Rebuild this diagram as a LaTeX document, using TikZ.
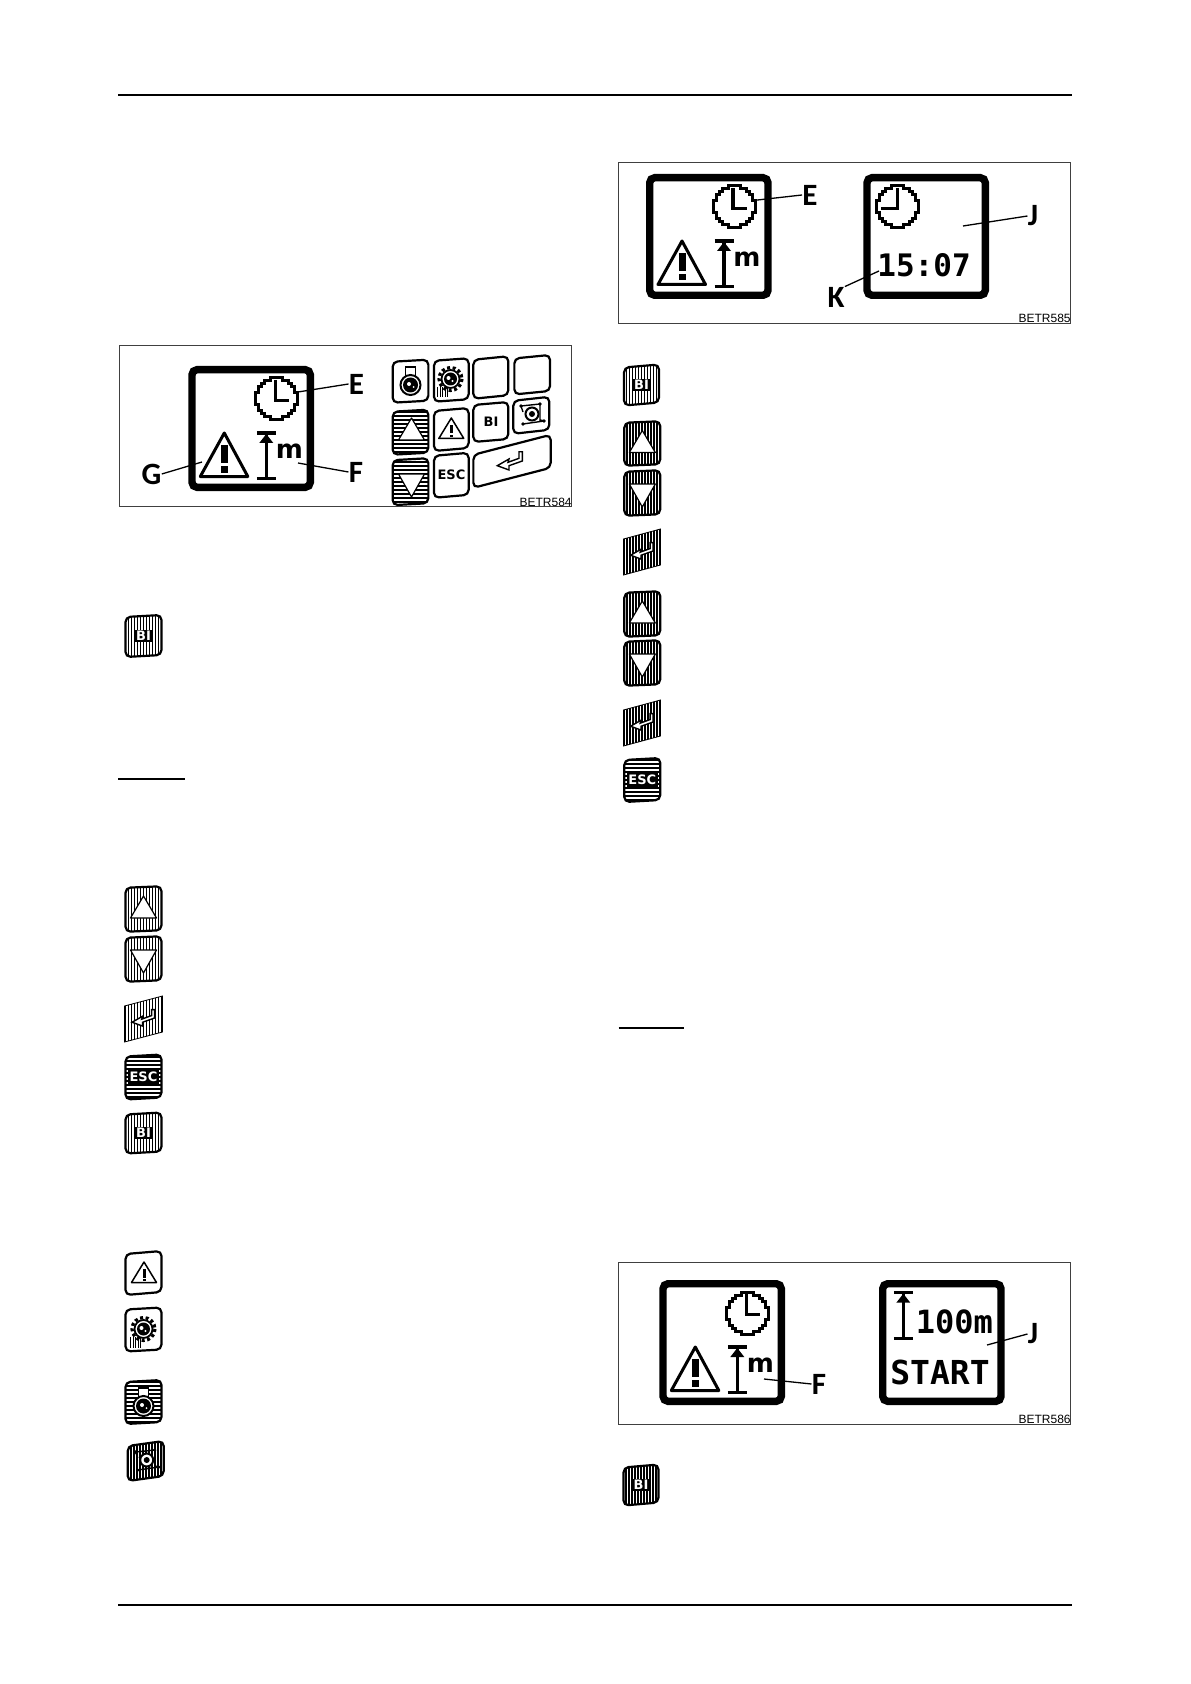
\documentclass[tikz,border=0pt]{standalone}
\usepackage{fontspec}
\setmainfont{Liberation Sans}
\newfontfamily\lblfont[Ligatures=TeX]{Carlito}
\newfontfamily\lcdfont{DejaVu Sans Mono}
\newfontfamily\keyfont{DejaVu Sans}
\tikzset{
  leader/.style={line width=.65pt,black},
  lbl/.style={font=\lblfont\bfseries\fontsize{15.5}{15.5}\selectfont,inner sep=0pt},
  lcd/.style={font=\lcdfont\bfseries\fontsize{#1}{#1}\selectfont,inner sep=0pt},
  code/.style={font=\fontsize{6}{6}\selectfont,inner sep=0pt,anchor=south east},
  frameb/.style={line width=.45pt,black!75},
  keyb/.style={line width=1.1pt,black,rounded corners=2.5pt},
  keyt/.style={font=\keyfont\bfseries\fontsize{#1}{#1}\selectfont,inner sep=0pt},
  keyp/.style={font=\keyfont\bfseries\fontsize{6.5}{6.5}\selectfont,fill=black,text=white,inner sep=.8pt},
}
\newcommand{\kpath}[5]{(#1-#3/2,#2-#4/2+#5/2) -- (#1+#3/2,#2-#4/2-#5/2) -- (#1+#3/2,#2+#4/2-#5/2) -- (#1-#3/2,#2+#4/2+#5/2) -- cycle}
\newcommand{\keyW}[5]{\draw[keyb,fill=white] \kpath{#1}{#2}{#3}{#4}{#5};}
\newcommand{\keyV}[5]{%
  \begin{scope}\clip[rounded corners=2.5pt] \kpath{#1}{#2}{#3}{#4}{#5};
    \foreach \i in {-24,-21,...,24} \draw[line width=.9pt] (#1+\i,#2-40) -- ++(0,80);
  \end{scope}
  \draw[keyb] \kpath{#1}{#2}{#3}{#4}{#5};}
\newcommand{\keyH}[5]{%
  \begin{scope}\clip[rounded corners=2.5pt] \kpath{#1}{#2}{#3}{#4}{#5};
    \foreach \i in {-32,-28,...,32} \draw[line width=1.1pt] (#1-30,#2+\i) -- ++(60,0);
  \end{scope}
  \draw[keyb] \kpath{#1}{#2}{#3}{#4}{#5};}
\newcommand{\keyEnterV}[5]{%
  \begin{scope}\clip \kpath{#1}{#2}{#3}{#4}{#5};
    \foreach \i in {-24,-21,...,24} \draw[line width=.9pt] (#1+\i,#2-40) -- ++(0,80);
  \end{scope}
  \draw[line width=.4pt] \kpath{#1}{#2}{#3}{#4}{#5};
  \enterarrow{#1}{#2-1}{.9}{white}}
\newcommand{\enterarrow}[4]{%
  \begin{scope}[shift={(#1,#2)},scale=#3]
  \draw[line width=.7pt,fill=#4,line join=miter] (-12.7,4.7) -- (-1,-2) -- (-2,1.3) -- (9,-2.7) -- (9,-9.3) -- (12.3,-9.3) -- (12.3,0) -- (-1,4.7) -- (-1,9) -- cycle;
  \end{scope}}
\newcommand{\triU}[2]{\draw[line width=.6pt,fill=white,line join=round] (#1,#2-13) -- (#1+13,#2+9) -- (#1-13,#2+9) -- cycle;}
\newcommand{\triD}[2]{\draw[line width=.6pt,fill=white,line join=round] (#1,#2+14) -- (#1+13,#2-9) -- (#1-13,#2-9) -- cycle;}
\newcommand{\warnicon}[2]{%
  \begin{scope}[shift={(#1,#2)}]
  \draw[line width=.75pt,line join=round,fill=white] (0,-12) -- (12.5,8.5) -- (-12.5,8.5) -- cycle;
  \fill (-1.5,-5) rectangle (1.5,3.5); \fill (-1.5,5) rectangle (1.5,7);
  \end{scope}}
\newcommand{\motoricon}[2]{%
  \begin{scope}[shift={(#1,#2)}]
  \draw[line width=.7pt,fill=white] (-5,-14) rectangle (5,-5);
  \draw[line width=1pt,fill=white] (0,4) circle (10);
  \fill (0,4) circle (7.5);
  \fill[white] (-1.5,3) circle (2); \fill[white] (3,6) circle (1);
  \end{scope}}
\newcommand{\gearicon}[2]{%
  \begin{scope}[shift={(#1,#2)}]
  \draw[line width=1.6pt,dash pattern=on 1.5pt off 1.3pt] (0,0) circle (11.5);
  \draw[line width=.9pt,fill=white] (0,0) circle (9);
  \fill (0,0) circle (6.5);
  \fill[white] (-2,-1) circle (2); \fill[white] (2,2) circle (1.2);
  \foreach \i in {-13,-10.5,...,-3} \draw[line width=.4pt] (\i,8) -- (\i,18.5);
  \end{scope}}
\newcommand{\pumpicon}[2]{%
  \begin{scope}[shift={(#1,#2)}]
  \draw[line width=.7pt] (-10,-9) -- (9,-11) -- (9,5) -- (14,6) (-10,-9) -- (-8,-3) (-8,9) -- (13,6);
  \draw[line width=1pt,fill=white] (1,-1) circle (6.5);
  \fill (1,-1) circle (3);
  \foreach \p in {(-10,-9),(9,-11),(-8,9),(13,6)} \fill \p circle (1.8);
  \end{scope}}
\newcommand{\clockgrid}{(-2,-7) -- (2,-7) -- (2,-6) -- (4,-6) -- (4,-5) -- (5,-5) -- (5,-4) -- (6,-4) -- (6,-2) -- (7,-2) -- (7,2) -- (6,2) -- (6,4) -- (5,4) -- (5,5) -- (4,5) -- (4,6) -- (2,6) -- (2,7) -- (-2,7) -- (-2,6) -- (-4,6) -- (-4,5) -- (-5,5) -- (-5,4) -- (-6,4) -- (-6,2) -- (-7,2) -- (-7,-2) -- (-6,-2) -- (-6,-4) -- (-5,-4) -- (-5,-5) -- (-4,-5) -- (-4,-6) -- (-2,-6) -- cycle}
\newcommand{\clockR}[2]{%
  \begin{scope}[shift={(#1,#2)}]
  \draw[line width=1.5pt,scale=3] \clockgrid;
  \draw[line width=1.8pt] (-1,-19) -- (-1,1.5) -- (13,1.5);
  \end{scope}}
\newcommand{\clockL}[2]{%
  \begin{scope}[shift={(#1,#2)}]
  \draw[line width=1.5pt,scale=3] \clockgrid;
  \draw[line width=1.4pt] (0,-19) -- (0,1.5) -- (-16,1.5);
  \end{scope}}
\newcommand{\heighticon}[2]{%
  \begin{scope}[shift={(#1,#2)}]
  \draw[line width=1.6pt] (-9.5,0) -- (9.5,0) (-9.5,45.5) -- (9.5,45.5) (0,0) -- (0,45.5);
  \fill (0,1) -- (7,10) -- (-7,10) -- cycle;
  \end{scope}}
\newcommand{\display}[2]{\draw[line width=3.7pt,rounded corners=2.5pt,fill=white] (#1+3.7,#2+3.7) rectangle (#1+122,#2+121.3);}
\newcommand{\warnbig}[2]{%
  \begin{scope}[shift={(#1,#2)}]
  \draw[line width=1.5pt,line join=round] (36,67) -- (59.5,110.5) -- (12,110.5) -- cycle;
  \fill (32.5,79) rectangle (39.5,97); \fill (32.5,100) rectangle (39.5,106.5);
  \end{scope}}
\newcommand{\dispstd}[2]{%
  \display{#1}{#2}
  \clockR{#1+88}{#2+33}
  \warnbig{#1}{#2}
  \heighticon{#1+78}{#2+67}
  \node[inner sep=0pt,font=\keyfont\bfseries\fontsize{13}{13}\selectfont] at (#1+101,#2+85) {m};}
\begin{document}
\begin{tikzpicture}[x=.5pt,y=-.5pt]
\useasboundingbox (0,0) rectangle (1190,1684);
\fill[white] (0,0) rectangle (1190,1684);
% page rules
\coordinate (tl) at (118,95); \coordinate (tr) at (1072,95);
\coordinate (bl) at (118,1605); \coordinate (br) at (1072,1605);
\draw[line width=1pt] (tl) -- (tr);
\draw[line width=.7pt] (bl) -- (br);
\draw[line width=.7pt] (118,779) -- (185,779);
\draw[line width=.7pt] (618.5,1028) -- (684,1028);
% frames
\draw[frameb] (119.3,345) rectangle (571.7,506.7);
\draw[frameb] (618.3,162.3) rectangle (1070.7,323.3);
\draw[frameb] (618.3,1262.3) rectangle (1070.7,1424);
\node[code] (c1) at (572,507) {BETR584};
\node[code] (c2) at (1071,323.5) {BETR585};
\node[code] (c3) at (1071,1424) {BETR586};
% box 1
\dispstd{188.3}{366}
\node[lbl] (E1) at (356.5,384) {E};
\node[lbl] (F1) at (356,472) {F};
\node[lbl] (G1) at (151.5,474) {G};
\coordinate (e1) at (298,392); \coordinate (f1) at (298,463); \coordinate (g1) at (202,462);
\draw[leader] (e1) -- (E1.west);
\draw[leader] (f1) -- (F1.west);
\draw[leader] (g1) -- (G1.east);
% keypad
\keyW{410.5}{381.2}{35.7}{41}{2}
\motoricon{410.5}{381}
\keyW{451.3}{380}{34.7}{41}{2.5}
\gearicon{450.5}{379}
\keyW{490.8}{377.5}{35}{39}{3.5}
\keyW{532.2}{374.7}{35.7}{36}{3.5}
\keyH{410.5}{432.2}{35.7}{43}{2}
\triU{411.5}{431}
\keyW{451.3}{429.5}{34.7}{40}{3}
\warnicon{451.3}{430}
\keyW{490.8}{422}{35}{37}{3}
\node[keyt=6.5] (b1) at (491,422) {BI};
\keyW{531.3}{415.3}{36}{33}{4}
\pumpicon{531}{415}
\keyH{410.5}{481.7}{35.7}{45}{2}
\triD{411.5}{483}
\keyW{451.3}{475.3}{34.7}{42}{3}
\node[keyt=6.5] (b2) at (451.5,475) {ESC};
\keyW{512}{461.3}{77.3}{33}{20}
\enterarrow{510}{461}{1}{white}
% left column keys
\keyV{143.5}{636}{36}{40}{2}
\node[keyp] (b3) at (143.5,636) {BI};
\keyV{143.5}{909}{36}{44}{1.5}
\triU{143.5}{909}
\keyV{143.5}{959}{36}{44}{1.5}
\triD{143.5}{959}
\keyEnterV{143.5}{1019}{38}{36}{10}
\keyH{143.5}{1077}{36}{43}{2}
\node[keyp] (b4) at (143.5,1077) {ESC};
\keyV{143.5}{1133}{36}{39}{2}
\node[keyp] (b5) at (143.5,1133) {BI};
\keyW{143.5}{1273}{36}{41}{3}
\warnicon{144}{1274}
\keyW{143.5}{1329.5}{36}{42}{2}
\gearicon{143.5}{1329}
\keyH{143.5}{1402}{36}{42}{2}
\motoricon{143.5}{1402}
\keyV{145.7}{1461}{36}{35}{5}
\pumpicon{145.7}{1461}
% box 2
\dispstd{646}{174}
\display{863.3}{174}
\clockL{897.3}{207}
\node[lcd=15.5] (t1) at (924,265) {15:07};
\node[lbl] (E2) at (810,195) {E};
\node[lbl] (J2) at (1033,216) {J};
\node[lbl] (K2) at (836,297) {K};
\coordinate (e2) at (753,200.5); \coordinate (j2) at (963,226); \coordinate (k2) at (879,271);
\draw[leader] (e2) -- (E2.west);
\draw[leader] (j2) -- (J2.west);
\draw[leader] (k2) -- (K2.north east);
% right column keys
\keyV{641.5}{385}{35}{38}{3}
\node[keyp] (b6) at (641.5,385) {BI};
\keyV{642.3}{443.5}{36}{43}{1.5}
\triU{642.3}{443.5}
\keyV{642.3}{493}{36}{44}{1.5}
\triD{642.3}{493}
\keyEnterV{642}{552}{37}{36}{10}
\keyV{642.3}{614}{36}{44}{1.5}
\triU{642.3}{614}
\keyV{642.3}{663}{36}{44}{1.5}
\triD{642.3}{663}
\keyEnterV{642}{723}{37}{36}{10}
\keyH{642.3}{780}{36}{42}{2}
\node[keyp] (b7) at (642.3,780) {ESC};
% box 3
\dispstd{659.3}{1280}
\display{879}{1280}
\heighticon{903.3}{1292.7}
\node[lcd=16] (t2) at (954.3,1321.7) {100m};
\node[lcd=16.5] (t3) at (940,1372.7) {START};
\node[lbl] (F3) at (819,1384) {F};
\node[lbl] (J3) at (1033,1334) {J};
\coordinate (f3) at (764,1379); \coordinate (j3) at (987,1345);
\draw[leader] (f3) -- (F3.west);
\draw[leader] (j3) -- (J3.west);
% last key
\keyV{641}{1485}{35}{38}{3}
\node[keyp] (b8) at (641,1485) {BI};
\end{tikzpicture}
\end{document}
